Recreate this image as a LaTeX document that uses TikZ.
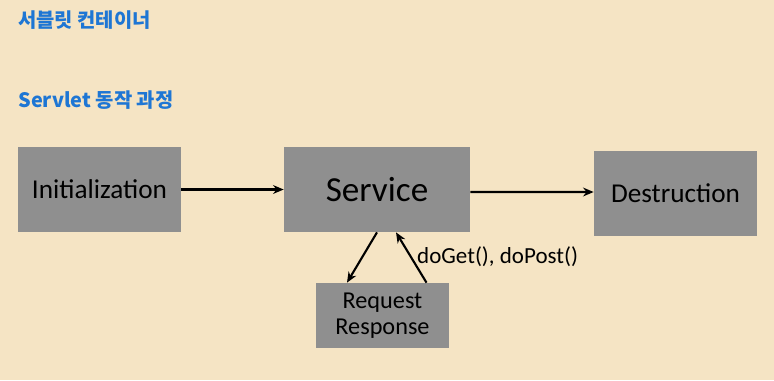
\documentclass[tikz,border=0pt]{standalone}
\usepackage{fontspec}
\setmainfont{Carlito}
\newfontfamily\krfont{Noto Sans CJK KR}
\usetikzlibrary{arrows.meta, positioning, calc}

\definecolor{bgbeige}{RGB}{245,228,196}
\definecolor{boxgray}{RGB}{143,143,143}
\definecolor{titleblue}{RGB}{30,118,212}

\begin{document}
\begin{tikzpicture}[
        x=0.02cm, y=-0.02cm,
        stage/.style={rectangle, fill=boxgray, inner sep=0pt, font=\fontsize{15.5}{18}\selectfont},
        heading/.style={anchor=west, inner sep=0pt, text=titleblue, font=\krfont\bfseries\fontsize{11.3}{13}\selectfont},
        arc/.style={-{Stealth[length=6pt, width=5pt]}, line width=1.2pt}
        ]
        % background
        \fill[bgbeige] (0,0) rectangle (774,380);
        \useasboundingbox (0,0) rectangle (774,380);

        % titles
        \node[heading] (t1) at (18,20) {서블릿 컨테이너};
        \node[heading] (t2) at (18,100) {Servlet 동작 과정};

        % stages
        \node[stage, minimum width=163*0.02cm, minimum height=85*0.02cm] (init) at (99.5,189.5) {Initialization};
        \node[stage, minimum width=186*0.02cm, minimum height=85*0.02cm, font=\fontsize{20}{24}\selectfont] (svc) at (377,189.5) {Service};
        \node[stage, minimum width=163*0.02cm, minimum height=85*0.02cm] (dest) at (675.5,193.5) {Destruction};
        \node[stage, minimum width=133*0.02cm, minimum height=65*0.02cm, align=center, font=\fontsize{13.8}{16}\selectfont] (req) at (382.5,315.5) {Request\\[-1pt]Response};

        % arcs
        \draw[arc] (init.east) -- (svc.west);
        \draw[arc] ($(svc.east)+(0,2.5)$) -- ($(dest.west)+(0,-1.5)$);
        \draw[arc] (svc.south) -- ($(req.north)+(-35.5,0)$);
        \draw[arc] ($(req.north)+(44,0)$) -- ($(svc.south)+(19,0)$);

        \node[font=\fontsize{13.1}{15}\selectfont, anchor=west] (call) at (411,257) {doGet(), doPost()};
    \end{tikzpicture}
\end{document}
